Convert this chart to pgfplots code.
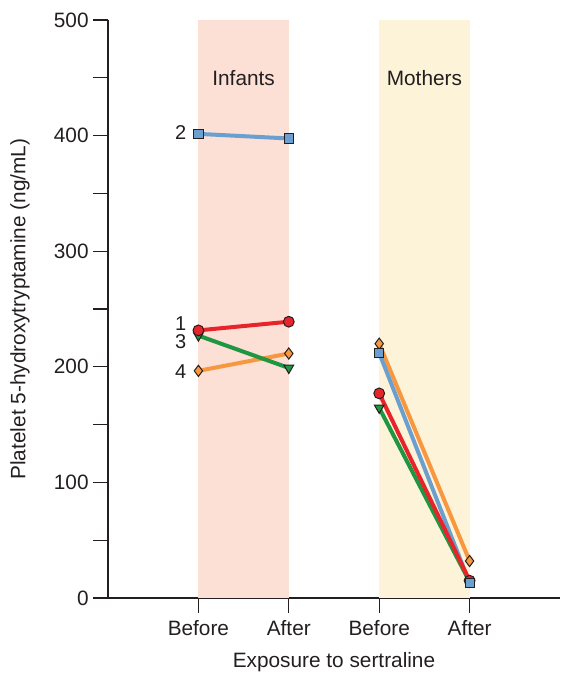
\documentclass[border=0pt]{standalone}
\usepackage{pgfplots}
\pgfplotsset{compat=1.18}
\usepackage{fontspec}
\setmainfont{Liberation Sans}
\definecolor{cblue}{HTML}{6A9FD0}
\definecolor{cred}{HTML}{E8242B}
\definecolor{cgreen}{HTML}{1E9642}
\definecolor{corange}{HTML}{F7973F}
\definecolor{cpink}{HTML}{FCE0D6}
\definecolor{cyellow}{HTML}{FDF3D8}
\definecolor{axc}{HTML}{231F20}
\begin{document}
\begin{tikzpicture}
\useasboundingbox (-54pt,-37.5pt) rectangle (226.5pt,299pt);
\begin{axis}[
  at={(0,0)}, anchor=south west,
  scale only axis,
  width=226pt, height=289pt,
  xmin=0, xmax=5, ymin=0, ymax=500,
  axis x line*=bottom, axis y line*=left,
  axis line style={axc, line width=1pt},
  every tick/.style={axc, line width=0.6pt},
  tick align=outside,
  major tick length=7.5pt, minor tick length=7.5pt,
  xtick={1,2,3,4}, xticklabels={Before,After,Before,After},
  ytick={0,100,200,300,400,500}, minor ytick={50,150,250,350,450},
  tick label style={font=\fontsize{10.4}{12}\selectfont, text=axc},
  yticklabel style={inner sep=2pt},
  /pgf/number format/assume math mode=true,
  xlabel={Exposure to sertraline},
  ylabel={Platelet 5-hydroxytryptamine (ng/mL)},
  label style={font=\fontsize{10.4}{12}\selectfont, text=axc},
  xlabel style={at={(axis description cs:0.5,-0.1107)}, anchor=center},
  ylabel style={at={(axis description cs:-0.1947,0.5)}, anchor=center},
  unbounded coords=jump,
  clip=false,
]
\fill[cpink] (axis cs:1,0) rectangle (axis cs:2,500);
\fill[cyellow] (axis cs:3,0) rectangle (axis cs:4,500);
\node[font=\fontsize{10.4}{12}\selectfont, text=axc] at (axis cs:1.5,450) {Infants};
\node[font=\fontsize{10.4}{12}\selectfont, text=axc] at (axis cs:3.5,450) {Mothers};
\node[font=\fontsize{10}{12}\selectfont, text=axc, anchor=east, inner sep=0pt] at (axis cs:0.87,403) {2};
\node[font=\fontsize{10}{12}\selectfont, text=axc, anchor=east, inner sep=0pt] at (axis cs:0.87,237) {1};
\node[font=\fontsize{10}{12}\selectfont, text=axc, anchor=east, inner sep=0pt] at (axis cs:0.87,222) {3};
\node[font=\fontsize{10}{12}\selectfont, text=axc, anchor=east, inner sep=0pt] at (axis cs:0.87,196) {4};
% lines
\addplot[corange, line width=2pt, no marks] coordinates {(1,196.5) (2,211.5) (2.5,nan) (3,220) (4,32)};
\addplot[cblue, line width=2pt, no marks] coordinates {(1,401.5) (2,397.5) (2.5,nan) (3,212) (4,13)};
\addplot[cgreen, line width=2pt, no marks] coordinates {(1,227) (2,199) (2.5,nan) (3,164.5) (4,14)};
\addplot[cred, line width=2pt, no marks] coordinates {(1,231.5) (2,239) (2.5,nan) (3,177) (4,15)};
% markers
\addplot[only marks, mark=triangle*, mark size=2.8pt, mark options={rotate=180, fill=cgreen, draw=axc, line width=0.5pt}] coordinates {(1,227) (2,199) (3,164.5) (4,14)};
\addplot[only marks, mark=*, mark size=2.7pt, mark options={fill=cred, draw=axc, line width=0.5pt}] coordinates {(1,231.5) (2,239) (3,177) (4,15)};
\addplot[only marks, mark=diamond*, mark size=2.8pt, mark options={fill=corange, draw=axc, line width=0.5pt}] coordinates {(1,196.5) (2,211.5) (3,220) (4,32)};
\addplot[only marks, mark=square*, mark size=2.3pt, mark options={fill=cblue, draw=axc, line width=0.5pt}] coordinates {(1,401.5) (2,397.5) (3,212) (4,13)};
\end{axis}
\end{tikzpicture}
\end{document}
